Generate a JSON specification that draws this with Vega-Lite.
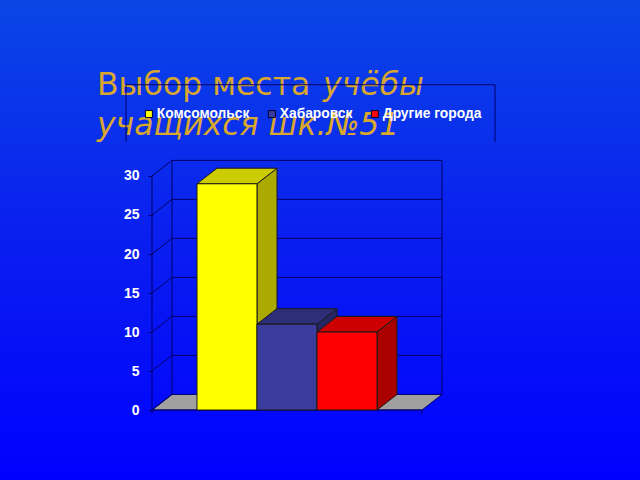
{
  "$schema": "https://vega.github.io/schema/vega-lite/v6.json",
  "width": 640,
  "height": 480,
  "autosize": "none",
  "padding": 0,
  "datasets": {
    "bars": [
      {"city": "Комсомольск", "value": 29, "start": 0, "end": 1},
      {"city": "Хабаровск", "value": 11, "start": 1, "end": 2},
      {"city": "Другие города", "value": 10, "start": 2, "end": 3}
    ],
    "floor": [
      {"x": -0.75, "low": 0, "high": 0},
      {"x": -0.4167, "low": 0, "high": 2},
      {"x": 3.75, "low": 0, "high": 2},
      {"x": 4.0833, "low": 2, "high": 2}
    ],
    "tops": [
      {"city": "Комсомольск", "x": 0, "low": 29, "high": 29},
      {"city": "Комсомольск", "x": 0.3333, "low": 29, "high": 31},
      {"city": "Комсомольск", "x": 1, "low": 29, "high": 31},
      {"city": "Комсомольск", "x": 1.3333, "low": 31, "high": 31},
      {"city": "Хабаровск", "x": 1, "low": 11, "high": 11},
      {"city": "Хабаровск", "x": 1.3333, "low": 11, "high": 13},
      {"city": "Хабаровск", "x": 2, "low": 11, "high": 13},
      {"city": "Хабаровск", "x": 2.3333, "low": 13, "high": 13},
      {"city": "Другие города", "x": 2, "low": 10, "high": 10},
      {"city": "Другие города", "x": 2.3333, "low": 10, "high": 12},
      {"city": "Другие города", "x": 3, "low": 10, "high": 12},
      {"city": "Другие города", "x": 3.3333, "low": 12, "high": 12}
    ],
    "sides": [
      {"city": "Комсомольск", "x": 1, "low": 0, "high": 29},
      {"city": "Комсомольск", "x": 1.3333, "low": 2, "high": 31},
      {"city": "Хабаровск", "x": 2, "low": 0, "high": 11},
      {"city": "Хабаровск", "x": 2.3333, "low": 2, "high": 13},
      {"city": "Другие города", "x": 3, "low": 0, "high": 10},
      {"city": "Другие города", "x": 3.3333, "low": 2, "high": 12}
    ],
    "grid": [
      {"level": 0, "x": -0.75, "y": 0, "k": 0},
      {"level": 0, "x": -0.4167, "y": 2, "k": 1},
      {"level": 0, "x": -0.4167, "y": 32, "k": 2},
      {"level": 5, "x": -0.75, "y": 5, "k": 0},
      {"level": 5, "x": -0.4167, "y": 7, "k": 1},
      {"level": 5, "x": 4.0833, "y": 7, "k": 2},
      {"level": 10, "x": -0.75, "y": 10, "k": 0},
      {"level": 10, "x": -0.4167, "y": 12, "k": 1},
      {"level": 10, "x": 4.0833, "y": 12, "k": 2},
      {"level": 15, "x": -0.75, "y": 15, "k": 0},
      {"level": 15, "x": -0.4167, "y": 17, "k": 1},
      {"level": 15, "x": 4.0833, "y": 17, "k": 2},
      {"level": 20, "x": -0.75, "y": 20, "k": 0},
      {"level": 20, "x": -0.4167, "y": 22, "k": 1},
      {"level": 20, "x": 4.0833, "y": 22, "k": 2},
      {"level": 25, "x": -0.75, "y": 25, "k": 0},
      {"level": 25, "x": -0.4167, "y": 27, "k": 1},
      {"level": 25, "x": 4.0833, "y": 27, "k": 2},
      {"level": 30, "x": -0.75, "y": 30, "k": 0},
      {"level": 30, "x": -0.4167, "y": 32, "k": 1},
      {"level": 30, "x": 4.0833, "y": 32, "k": 2},
      {"level": 31, "x": 4.0833, "y": 2, "k": 0},
      {"level": 31, "x": 4.0833, "y": 32, "k": 1},
      {"level": 32, "x": -0.75, "y": 0, "k": 0},
      {"level": 32, "x": -0.75, "y": 30, "k": 1},
      {"level": 33, "x": -0.75, "y": 0, "k": 0},
      {"level": 33, "x": 3.75, "y": 0, "k": 1},
      {"level": 34, "x": -1.1833, "y": 34.4, "k": 0},
      {"level": 34, "x": -1.1833, "y": 41.7, "k": 1},
      {"level": 34, "x": 4.9667, "y": 41.7, "k": 2},
      {"level": 34, "x": 4.9667, "y": 34.4, "k": 3},
      {"level": 35, "x": 3.75, "y": 0, "k": 0},
      {"level": 35, "x": 3.75, "y": -0.5, "k": 1},
      {"level": 36, "x": -0.75, "y": 0, "k": 0},
      {"level": 36, "x": -0.75, "y": -0.5, "k": 1}
    ],
    "titles": [
      {"text": "Выбор места", "x": -1.667, "y": 40.4, "style": "normal"},
      {"text": "учёбы", "x": 2.1, "y": 40.4, "style": "italic"},
      {"text": "учащихся шк.№51", "x": -1.667, "y": 35.26, "style": "italic"}
    ]
  },
  "data": {"name": "bars"},
  "layer": [
    {
      "data": {"name": "titles"},
      "transform": [{"filter": "datum.style == 'normal'"}],
      "mark": {"type": "text", "align": "left", "baseline": "alphabetic", "font": "DejaVu Sans", "fontSize": 31.5, "color": "#d9a62e"},
      "encoding": {
        "x": {"field": "x", "type": "quantitative", "scale": {"domain": [-3.2833, 7.3833], "nice": false, "zero": false}, "axis": null},
        "y": {"field": "y", "type": "quantitative", "scale": {"domain": [-8.97, 52.56], "nice": false, "zero": false}, "axis": {"values": [0, 5, 10, 15, 20, 25, 30], "title": null, "grid": false, "domain": false, "offset": -152, "tickColor": "#000066", "tickSize": 4, "labelColor": "white", "labelFont": "Liberation Sans", "labelFontWeight": "bold", "labelFontSize": 14, "labelPadding": 9}},
        "text": {"field": "text"}
      }
    },
    {
      "data": {"name": "titles"},
      "transform": [{"filter": "datum.style == 'italic'"}],
      "mark": {"type": "text", "align": "left", "baseline": "alphabetic", "font": "DejaVu Sans", "fontStyle": "italic", "fontSize": 31.5, "color": "#d9a62e"},
      "encoding": {
        "x": {"field": "x", "type": "quantitative"},
        "y": {"field": "y", "type": "quantitative"},
        "text": {"field": "text"}
      }
    },
    {
      "data": {"name": "floor"},
      "mark": {"type": "area", "color": "#a0a0a0", "stroke": "#000066", "strokeWidth": 1},
      "encoding": {
        "x": {"field": "x", "type": "quantitative"},
        "y": {"field": "low", "type": "quantitative"},
        "y2": {"field": "high"}
      }
    },
    {
      "data": {"name": "grid"},
      "mark": {"type": "line", "color": "#000066", "strokeWidth": 1},
      "encoding": {
        "x": {"field": "x", "type": "quantitative"},
        "y": {"field": "y", "type": "quantitative"},
        "detail": {"field": "level"},
        "order": {"field": "k"}
      }
    },
    {
      "data": {"name": "sides"},
      "mark": {"type": "area", "stroke": "#1a1a1a", "strokeWidth": 1},
      "encoding": {
        "x": {"field": "x", "type": "quantitative"},
        "y": {"field": "low", "type": "quantitative"},
        "y2": {"field": "high"},
        "color": {
          "field": "city",
          "type": "nominal",
          "scale": {"domain": ["Комсомольск", "Хабаровск", "Другие города"], "range": ["#aaaa00", "#262664", "#aa0000"]},
          "legend": null
        }
      }
    },
    {
      "data": {"name": "tops"},
      "mark": {"type": "area", "stroke": "#1a1a1a", "strokeWidth": 1},
      "encoding": {
        "x": {"field": "x", "type": "quantitative"},
        "y": {"field": "low", "type": "quantitative"},
        "y2": {"field": "high"},
        "color": {
          "field": "city",
          "type": "nominal",
          "scale": {"domain": ["Комсомольск", "Хабаровск", "Другие города"], "range": ["#cccc00", "#2e2e78", "#cc0000"]},
          "legend": null
        }
      }
    },
    {
      "mark": {"type": "rect", "stroke": "#1a1a1a", "strokeWidth": 1},
      "encoding": {
        "x": {"field": "start", "type": "quantitative"},
        "x2": {"field": "end"},
        "y": {"field": "value", "type": "quantitative"},
        "y2": {"datum": 0},
        "color": {
          "field": "city",
          "type": "nominal",
          "sort": null,
          "scale": {"domain": ["Комсомольск", "Хабаровск", "Другие города"], "range": ["#ffff00", "#3c3c9c", "#ff0000"]},
          "legend": {"orient": "none", "legendX": 142, "legendY": 107, "direction": "horizontal", "title": null, "symbolType": "square", "symbolSize": 49, "symbolStrokeColor": "#000033", "symbolStrokeWidth": 1, "labelColor": "white", "labelFont": "Liberation Sans", "labelFontWeight": "bold", "labelFontSize": 13.8, "labelOffset": 1, "columnPadding": 15}
        }
      }
    }
  ],
  "resolve": {"scale": {"color": "independent"}},
  "config": {
    "view": {
      "fill": {
        "gradient": "linear",
        "x1": 0, "y1": 0, "x2": 0, "y2": 1,
        "stops": [
          {"offset": 0, "color": "#0a46e6"},
          {"offset": 0.5, "color": "#0a1ef0"},
          {"offset": 1, "color": "#0000ff"}
        ]
      },
      "stroke": null
    }
  }
}
